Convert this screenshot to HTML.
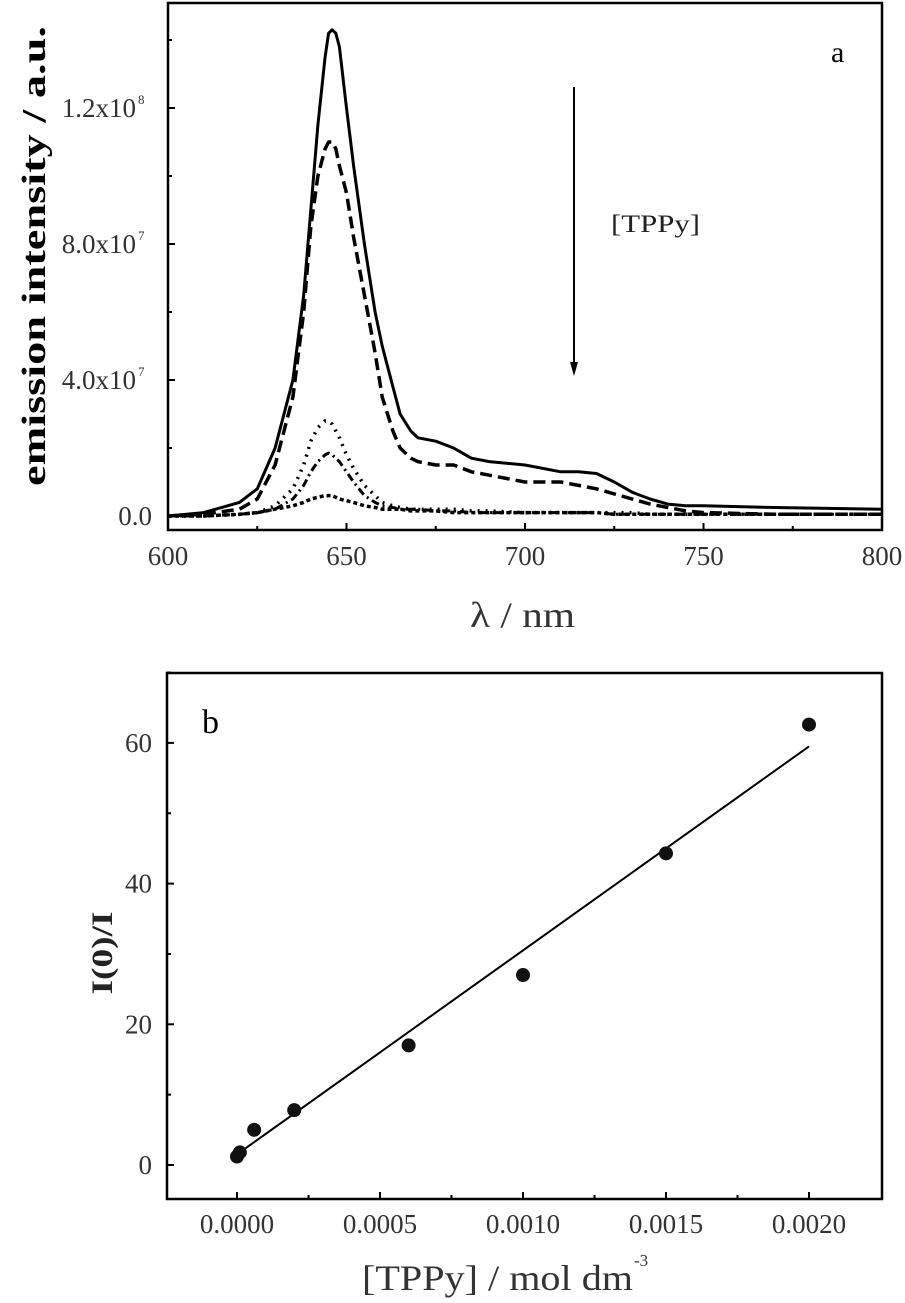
<!DOCTYPE html>
<html><head><meta charset="utf-8"><style>
html,body{margin:0;padding:0;background:#fff;}
svg{display:block;font-family:"Liberation Serif",serif;}
</style></head><body>
<svg id="chart" width="905" height="1303" viewBox="0 0 905 1303" xmlns="http://www.w3.org/2000/svg">
<g id="topg"></g>
<g id="botg"></g>
</svg>
<script>
// ---- Panel a data ----
const wl = [600,610,620,625,630,635,638,640,642,644,645,646,647,648,650,652,655,658,660,663,665,668,670,675,680,685,690,700,710,715,720,725,730,735,740,745,750,770,800];
const solid = [0,0.1,0.4,0.8,2.0,4.0,6.5,9.0,11.5,13.5,14.2,14.3,14.2,13.8,12.0,10.3,8.0,6.0,5.0,3.8,3.0,2.5,2.3,2.2,2.0,1.7,1.6,1.5,1.3,1.3,1.25,1.0,0.7,0.5,0.35,0.3,0.3,0.25,0.2];
const dashed = [0,0.05,0.2,0.5,1.5,3.5,6.0,8.5,10.0,10.8,11.0,11.0,10.8,10.3,9.5,8.2,6.5,4.8,3.5,2.5,2.0,1.7,1.6,1.5,1.5,1.3,1.2,1.0,1.0,0.9,0.8,0.65,0.5,0.35,0.25,0.15,0.1,0.05,0.05];
const dotted = [0,0,0.05,0.1,0.3,0.8,1.5,2.2,2.6,2.8,2.8,2.7,2.5,2.3,1.8,1.4,0.9,0.6,0.4,0.3,0.25,0.2,0.2,0.2,0.2,0.15,0.15,0.1,0.1,0.1,0.1,0.1,0.1,0.05,0.05,0.05,0.05,0.05,0.05];
const dashdot = [0,0,0.05,0.1,0.2,0.5,0.9,1.3,1.6,1.8,1.85,1.8,1.7,1.6,1.3,1.0,0.6,0.4,0.3,0.25,0.2,0.2,0.2,0.15,0.15,0.1,0.1,0.1,0.1,0.1,0.1,0.05,0.05,0.05,0.05,0.05,0.05,0.05,0.05];
const small = [0,0,0.05,0.1,0.2,0.3,0.4,0.5,0.55,0.6,0.6,0.6,0.55,0.5,0.45,0.4,0.3,0.25,0.2,0.2,0.2,0.15,0.15,0.15,0.1,0.1,0.1,0.1,0.1,0.1,0.1,0.05,0.05,0.05,0.05,0.05,0.05,0.05,0.05];
const xTicksA = [600,650,700,750,800];
const yTicksA = [0,4,8,12];
const yTickLabelsA = ["0.0","4.0x10","8.0x10","1.2x10"];
const yTickExpA = ["","7","7","8"];
// ---- Panel b data ----
const conc = [0.0,0.00001,0.00006,0.0002,0.0006,0.001,0.0015,0.002];
const ratio = [1.2,1.8,5.0,7.8,17.0,27.0,44.3,62.6];
const fitX = [0.00001,0.002];
const fitY = [1.8,59.5];
const xTicksB = [0,0.0005,0.001,0.0015,0.002];
const xTickLabelsB = ["0.0000","0.0005","0.0010","0.0015","0.0020"];
const yTicksB = [0,20,40,60];

const NS="http://www.w3.org/2000/svg";
function mk(parent,tag,attrs){const e=document.createElementNS(NS,tag);for(const k in attrs)e.setAttribute(k,attrs[k]);parent.appendChild(e);return e;}

// Panel a axes
const A={x0:168,x1:882,y0:3,y1:530};
const xa=v=>A.x0+(v-600)/200*(A.x1-A.x0);
const ya=v=>516-v/4*136;
const gTop=document.getElementById('topg');
let fr=mk(gTop,'rect',{x:A.x0,y:A.y0,width:A.x1-A.x0,height:A.y1-A.y0,fill:'none',stroke:'#000','stroke-width':2.5});


xTicksA.forEach((t,i)=>{
  mk(gTop,'line',{x1:xa(t),x2:xa(t),y1:A.y1,y2:A.y1-7,stroke:'#000','stroke-width':2});
  if(i<4) mk(gTop,'line',{x1:xa(t+25),x2:xa(t+25),y1:A.y1,y2:A.y1-4,stroke:'#000','stroke-width':2});
  const tx=mk(gTop,'text',{x:xa(t),y:565,'text-anchor':'middle','font-size':27,fill:'#333'});
  tx.textContent=t;
  
  
});
yTicksA.forEach((t,i)=>{
  mk(gTop,'line',{x1:A.x0,x2:A.x0+7,y1:ya(t),y2:ya(t),stroke:'#000','stroke-width':2});
  mk(gTop,'line',{x1:A.x0,x2:A.x0+4,y1:ya(t+2),y2:ya(t+2),stroke:'#000','stroke-width':2});
  const tx=mk(gTop,'text',{x:i?136:152,y:ya(t)+9,'text-anchor':'end','font-size':27,fill:'#333'});
  tx.textContent=yTickLabelsA[i];
  
  
  if(yTickExpA[i]){const s=mk(gTop,'text',{x:138,y:ya(t)-4,'font-size':13,fill:'#333'});s.textContent=yTickExpA[i];}
});
function series(arr,dash,name,w){
  const d=wl.map((w,i)=>(i?'L':'M')+xa(w).toFixed(1)+','+ya(arr[i]).toFixed(1)).join(' ');
  const p=mk(gTop,'path',{d:d,fill:'none',stroke:'#000','stroke-width':w,'stroke-dasharray':dash,'stroke-linejoin':'round'});
  
  
}
series(solid,'none','series-solid',3);
series(dashed,'12 6','series-dashed',3.5);
series(dotted,'2 6','series-dotted',3.5);
series(dashdot,'8 4 2 4','series-dashdot',3);
series(small,'4 3','series-low',3.5);
let ar=mk(gTop,'line',{x1:574,x2:574,y1:87,y2:368,stroke:'#000','stroke-width':2});


mk(gTop,'path',{d:'M570,362 L578,362 L574,376 Z',fill:'#000'});
let lb=mk(gTop,'text',{x:611,y:232,'font-size':25,fill:'#222',textLength:89,lengthAdjust:'spacingAndGlyphs'});lb.textContent='[TPPy]';


let pa=mk(gTop,'text',{x:831,y:62,'font-size':30,fill:'#000'});pa.textContent='a';


let xt=mk(gTop,'text',{x:470,y:627,'font-size':36,fill:'#333',textLength:105,lengthAdjust:'spacingAndGlyphs'});xt.textContent='λ / nm';


let yt=mk(gTop,'text',{x:0,y:0,'text-anchor':'middle','font-size':34,'font-weight':'bold',fill:'#000',textLength:460,lengthAdjust:'spacingAndGlyphs',transform:'translate(45,256) rotate(-90)'});yt.textContent='emission intensity / a.u.';



// Panel b
const B={x0:167,x1:882,y0:673,y1:1199};
const xb=v=>237+v/0.0005*143;
const yb=v=>1165-v/20*140.7;
const gBot=document.getElementById('botg');
fr=mk(gBot,'rect',{x:B.x0,y:B.y0,width:B.x1-B.x0,height:B.y1-B.y0,fill:'none',stroke:'#000','stroke-width':2.5});


xTicksB.forEach((t,i)=>{
  mk(gBot,'line',{x1:xb(t),x2:xb(t),y1:B.y1,y2:B.y1-7,stroke:'#000','stroke-width':2});
  if(i<4) mk(gBot,'line',{x1:xb(t+0.00025),x2:xb(t+0.00025),y1:B.y1,y2:B.y1-4,stroke:'#000','stroke-width':2});
  const tx=mk(gBot,'text',{x:xb(t),y:1233,'text-anchor':'middle','font-size':27,fill:'#333'});
  tx.textContent=xTickLabelsB[i];
  
  
});
yTicksB.forEach(t=>{
  mk(gBot,'line',{x1:B.x0,x2:B.x0+7,y1:yb(t),y2:yb(t),stroke:'#000','stroke-width':2});
  mk(gBot,'line',{x1:B.x0,x2:B.x0+4,y1:yb(t+10),y2:yb(t+10),stroke:'#000','stroke-width':2});
  const tx=mk(gBot,'text',{x:152,y:yb(t)+9,'text-anchor':'end','font-size':27,fill:'#333'});
  tx.textContent=t;
  
  
});
let fit=mk(gBot,'line',{x1:xb(fitX[0]),y1:yb(fitY[0]),x2:xb(fitX[1]),y2:yb(fitY[1]),stroke:'#000','stroke-width':2});


conc.forEach((c,i)=>{
  const p=mk(gBot,'circle',{cx:xb(c),cy:yb(ratio[i]),r:7,fill:'#111'});
  
  
});
let pb=mk(gBot,'text',{x:202,y:733,'font-size':34,fill:'#000'});pb.textContent='b';


let xt2=mk(gBot,'text',{x:362,y:1290,'font-size':36,fill:'#333',textLength:271,lengthAdjust:'spacingAndGlyphs'});xt2.textContent='[TPPy] / mol dm';


mk(gBot,'text',{x:634,y:1266,'font-size':17,fill:'#333'}).textContent='-3';
let yt2=mk(gBot,'text',{x:0,y:0,'text-anchor':'middle','font-size':30,'font-weight':'bold',fill:'#222',textLength:83,lengthAdjust:'spacingAndGlyphs',transform:'translate(112,953) rotate(-90)'});yt2.textContent='I(0)/I';


</script>
</body></html>
